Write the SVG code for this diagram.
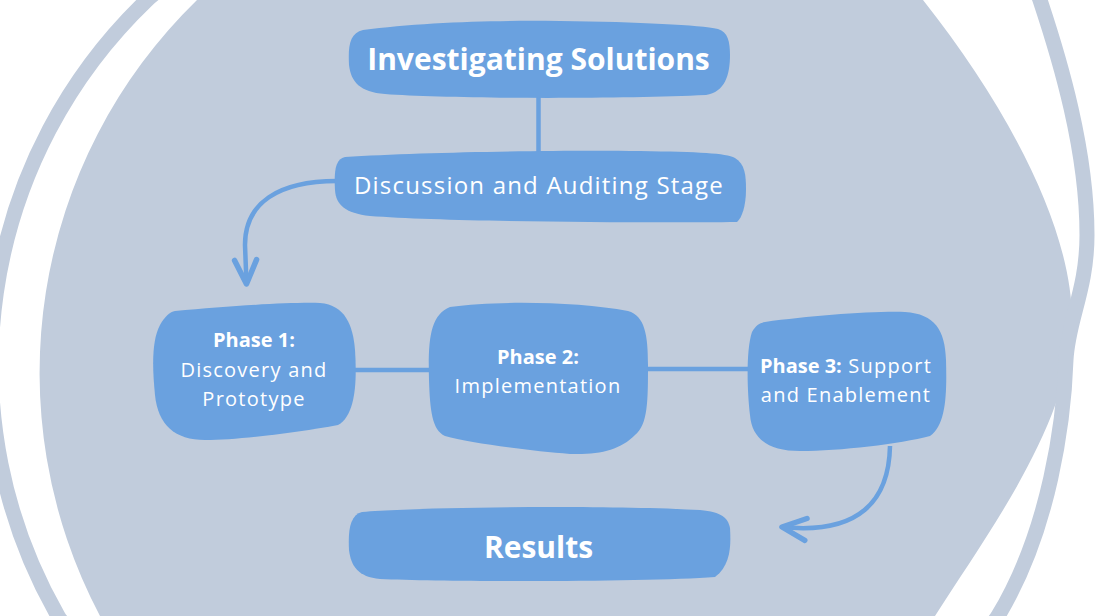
<svg xmlns="http://www.w3.org/2000/svg" width="1104" height="616" viewBox="0 0 1104 616">
<style>
.node{fill:#6AA1DF}
.conn{fill:none;stroke:#6AA1DF;stroke-width:4.5}
.t{font-family:"Open Sans","Noto Sans","DejaVu Sans",sans-serif;fill:#FFFFFF;text-anchor:middle}
.big{font-weight:700;font-size:30px}
.reg{font-weight:400;font-size:20px;letter-spacing:1.25px}
.b{font-weight:700;letter-spacing:0px}
</style>
<defs>
<marker id="chev" markerUnits="userSpaceOnUse" markerWidth="40" markerHeight="40" refX="30" refY="20" orient="auto" overflow="visible">
<path d="M 6 9 L 30 20 L 6 31" fill="none" stroke="#6AA1DF" stroke-width="5.5" stroke-linecap="round" stroke-linejoin="round"/>
</marker>
</defs>
<rect x="0" y="0" width="1104" height="616" fill="#FFFFFF"/>
<g id="background">
<path fill="#C1CCDC" d="M 923 0 A 520 520 0 0 0 197 0 A 520 520 0 0 0 100 616 C 150 710, 860 760, 935 616 C 990 530, 1072 420, 1072 320 C 1072 230, 1010 110, 923 0 Z"/>
<path fill="none" stroke="#C1CCDC" stroke-width="15" d="M 147 0 C 255 -104, 992 -142, 1040 0 C 1060 60, 1087 150, 1087 235 C 1087 290, 1068 320, 1066 360 C 1064 420, 1050 530, 998 616 C 936 719, 118 720, 58 616 A 505 505 0 0 1 147 0 Z"/>
</g>
<g id="connectors">
<path class="conn" d="M 538.5 95 L 538.5 154"/>
<path class="conn" d="M 337 181 C 278 181, 245 203, 245 245 L 246.5 284" marker-end="url(#chev)"/>
<path class="conn" d="M 354 370 L 430 370"/>
<path class="conn" d="M 646 369 L 750 369"/>
<path class="conn" d="M 890 446 C 889 500, 860 535, 782 527" marker-end="url(#chev)"/>
</g>
<g id="node-investigating">
<path class="node" d="M 363 30 C 420 22, 500 20, 560 21 C 640 22, 700 25, 718 29 C 728 32, 730 42, 730 55 C 730 75, 725 92, 706 95 C 620 99, 450 99, 385 94 C 360 92, 351 82, 349 65 C 348 45, 350 33, 363 30 Z"/>
<text class="t big" x="538.5" y="70">Investigating Solutions</text>
</g>
<g id="node-discussion">
<path class="node" d="M 345 157 C 420 152, 560 150, 640 151 C 700 152, 725 153, 735 158 C 745 164, 746 175, 746 190 C 746 205, 742 218, 737 222 C 650 223, 450 222, 370 216 C 345 213, 336 205, 335 190 C 334 172, 335 159, 345 157 Z"/>
<text class="t" x="539" y="194" style="font-size:24px;letter-spacing:1.2px">Discussion and Auditing Stage</text>
</g>
<g id="node-phase1">
<path class="node" d="M 175 311 C 230 306, 290 302, 320 303 C 345 305, 353 325, 355 350 C 357 380, 356 415, 338 425 C 300 432, 240 440, 205 440 C 175 440, 158 425, 155 395 C 152 365, 152 340, 160 325 C 165 316, 170 312, 175 311 Z"/>
<text class="t reg" x="254" y="347"><tspan class="b">Phase 1:</tspan></text>
<text class="t reg" x="254" y="377">Discovery and</text>
<text class="t reg" x="254" y="406">Prototype</text>
</g>
<g id="node-phase2">
<path class="node" d="M 450 307 C 500 300, 580 302, 628 311 C 645 316, 648 335, 648 365 C 648 400, 648 425, 635 435 C 620 450, 600 455, 570 454 C 530 451, 470 443, 445 436 C 432 430, 430 410, 429 380 C 428 340, 430 315, 450 307 Z"/>
<text class="t reg" x="538" y="364"><tspan class="b">Phase 2:</tspan></text>
<text class="t reg" x="538" y="393">Implementation</text>
</g>
<g id="node-phase3">
<path class="node" d="M 765 322 C 810 316, 870 311, 905 312 C 935 314, 945 330, 946 360 C 947 395, 946 425, 930 436 C 900 444, 840 451, 800 451 C 770 451, 752 440, 750 415 C 747 390, 746 350, 752 332 C 756 325, 760 323, 765 322 Z"/>
<text class="t reg" x="846" y="373"><tspan class="b">Phase 3:</tspan> Support</text>
<text class="t reg" x="846" y="402">and Enablement</text>
</g>
<g id="node-results">
<path class="node" d="M 362 512 C 420 507, 600 505, 700 510 C 722 512, 728 518, 730 528 C 731 545, 731 565, 715 577 C 650 582, 450 582, 380 579 C 358 577, 351 566, 349 550 C 348 530, 350 515, 362 512 Z"/>
<text class="t big" x="538.5" y="558">Results</text>
</g>
</svg>
